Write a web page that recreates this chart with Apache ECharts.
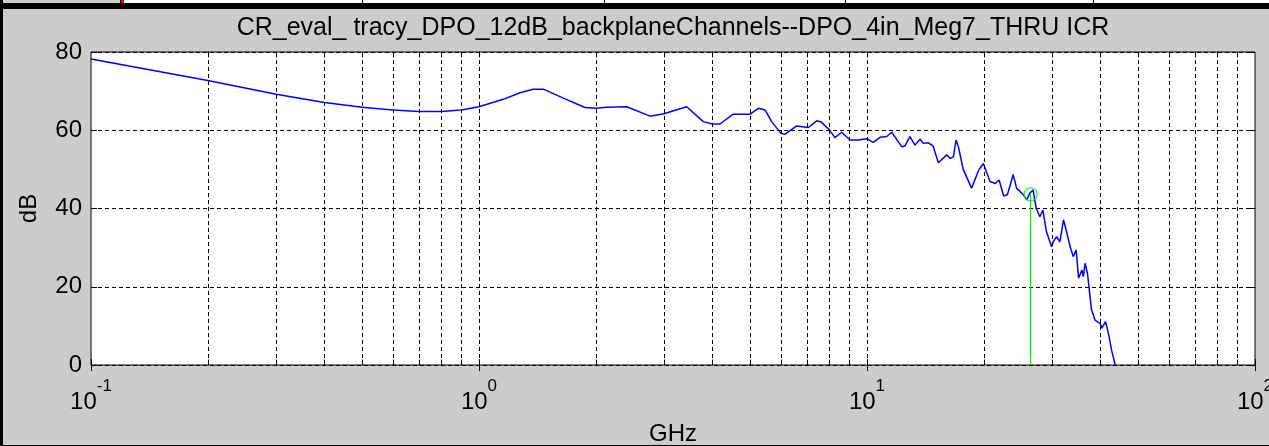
<!DOCTYPE html>
<html><head><meta charset="utf-8">
<script src="https://cdn.jsdelivr.net/npm/echarts@6/dist/echarts.min.js"></script>
<style>
html,body{margin:0;padding:0;width:1269px;height:446px;overflow:hidden;background:#cccccc;}
.f{position:absolute;}
#chart{position:absolute;left:0;top:0;width:1269px;height:446px;}
</style></head>
<body>
<div class="f" style="left:0;top:0;width:120px;height:3px;background:#cccccc"></div>
<div class="f" style="left:120px;top:0;width:1px;height:3px;background:#000"></div>
<div class="f" style="left:121px;top:0;width:3px;height:3px;background:#ff0000"></div>
<div class="f" style="left:124px;top:0;width:1145px;height:3px;background:#fff"></div>
<div class="f" style="left:362px;top:0;width:1px;height:3px;background:#000"></div>
<div class="f" style="left:604px;top:0;width:1px;height:3px;background:#000"></div>
<div class="f" style="left:845px;top:0;width:1px;height:3px;background:#000"></div>
<div class="f" style="left:1093px;top:0;width:1px;height:3px;background:#000"></div>
<div class="f" style="left:0;top:3px;width:1269px;height:6px;background:#000"></div>
<div class="f" style="left:0;top:0;width:3px;height:446px;background:#000"></div>
<div class="f" style="left:0;top:445px;width:1269px;height:1px;background:#000"></div>
<div id="chart"></div>
<script>
const titleText = 'CR_eval_ tracy_DPO_12dB_backplaneChannels--DPO_4in_Meg7_THRU ICR';
const xName = 'GHz';
const yName = 'dB';

const freqs = [
  0.1, 0.2, 0.3, 0.4, 0.5, 0.6, 0.7, 0.8, 0.9, 1.0,
  1.155, 1.275, 1.38, 1.465, 1.649, 1.876, 2.0, 2.133, 2.403, 2.76,
  3.0, 3.17, 3.43, 3.785, 4.0, 4.18, 4.52, 5.0, 5.25, 5.46,
  5.68, 6.0, 6.15, 6.59, 7.06, 7.42, 7.6, 8.0, 8.27, 8.6,
  9.04, 9.5, 10.0, 10.38, 10.8, 11.24, 11.58, 12.29, 12.53, 12.9,
  13.3, 13.7, 13.97, 14.4, 14.8, 15.27, 16.05, 16.4, 16.7, 16.96,
  17.2, 17.7, 18.6, 19.4, 19.95, 20.75, 21.4, 21.9, 22.5, 23.0,
  23.4, 23.8, 24.3, 25.3, 25.8, 26.3, 26.8, 27.3, 27.9, 28.4,
  29.0, 29.9, 30.2, 30.8, 31.4, 32.1, 32.6, 33.4, 34.0, 34.6,
  35.1, 35.8, 36.1, 36.5, 37.0, 37.9, 38.7, 39.9, 40.3, 41.2,
  41.9, 42.7, 43.6
];
const dbValues = [
  78.2, 72.7, 69.2, 67.1, 65.9, 65.2, 64.8, 64.8, 65.2, 66.0,
  67.9, 69.6, 70.5, 70.5, 68.2, 65.8, 65.6, 65.9, 66.0, 63.6,
  64.2, 65.0, 66.0, 62.2, 61.6, 61.6, 64.1, 64.1, 65.6, 65.2,
  62.2, 59.2, 59.0, 61.1, 60.7, 62.4, 62.2, 60.1, 58.1, 59.5,
  57.5, 57.5, 57.8, 56.9, 58.2, 58.4, 59.5, 55.8, 56.0, 58.4,
  56.2, 57.7, 56.7, 56.8, 56.0, 51.7, 53.7, 52.8, 53.2, 57.5,
  55.8, 50.0, 45.2, 49.8, 51.5, 46.9, 46.4, 47.3, 43.2, 43.5,
  46.0, 48.7, 45.2, 43.5, 42.2, 44.0, 44.7, 40.0, 37.9, 39.6,
  34.1, 30.2, 31.5, 32.8, 31.5, 37.1, 34.5, 30.2, 27.7, 29.4,
  22.2, 24.3, 22.6, 26.0, 23.4, 14.1, 11.5, 10.6, 9.4, 11.1,
  8.1, 3.8, 0.0
];
const markerFreq = 26.4;
const markerDb = 43.6;

const xMin = 0.1, xMax = 100;
const yMin = 0, yMax = 80, yStep = 20;
const gridFreqs = [0.2,0.3,0.4,0.5,0.6,0.7,0.8,0.9,1,2,3,4,5,6,7,8,9,10,20,30,40,50,60,70,80,90];
const tickDb = 1.4;

const FONT = 'Liberation Sans, Arial, sans-serif';
const chart = echarts.init(document.getElementById('chart'), null, {renderer:'canvas'});
const curve = freqs.map((f,i)=>[f, dbValues[i]]);

const tickMarks = [];
gridFreqs.forEach(f => {
  tickMarks.push([{coord: [f, yMin]}, {coord: [f, yMin + tickDb]}]);
  tickMarks.push([{coord: [f, yMax]}, {coord: [f, yMax - tickDb]}]);
});

chart.setOption({
  backgroundColor: 'transparent',
  animation: false,
  title: {
    text: titleText, left: 673, top: 16, textAlign: 'center', padding: 0,
    textStyle: {fontFamily: FONT, fontSize: 25, fontWeight: 'normal', color: '#000'}
  },
  grid: {left: 91, top: 52, width: 1164, height: 313, show: true,
         backgroundColor: '#ffffff', borderColor: '#000', borderWidth: 1,
         containLabel: false, outerBoundsMode: 'none'},
  xAxis: [{
    type: 'log', logBase: 10, min: xMin, max: xMax,
    name: xName, nameLocation: 'middle', nameGap: 57,
    nameTextStyle: {fontFamily: FONT, fontSize: 24, color: '#000'},
    axisLine: {show: false},
    axisTick: {show: true, inside: true, length: 6, lineStyle: {color: '#000'}},
    splitLine: {show: false},
    axisLabel: {
      margin: 23, color: '#000',
      formatter: function(v){
        const e = String(Math.round(Math.log10(v)));
        return '{b|10}{e|' + e + '}';
      },
      rich: {
        b: {fontFamily: FONT, fontSize: 24, lineHeight: 26, color: '#000', verticalAlign: 'bottom'},
        e: {fontFamily: FONT, fontSize: 17, lineHeight: 17, color: '#000', padding: [0,0,19,0], verticalAlign: 'bottom'}
      }
    }
  }, {
    type: 'log', logBase: 10, min: xMin, max: xMax, position: 'top',
    axisLine: {show: false}, axisLabel: {show: false}, splitLine: {show: false},
    axisTick: {show: true, inside: true, length: 6, lineStyle: {color: '#000'}}
  }],
  yAxis: [{
    type: 'value', min: yMin, max: yMax, interval: yStep,
    name: yName, nameLocation: 'middle', nameGap: 50, nameRotate: 90,
    nameTextStyle: {fontFamily: FONT, fontSize: 24, color: '#000'},
    axisLine: {show: false},
    axisTick: {show: true, inside: true, length: 6, lineStyle: {color: '#000'}},
    axisLabel: {margin: 9, fontFamily: FONT, fontSize: 24, color: '#000'},
    splitLine: {show: true, lineStyle: {color: '#000', type: [4,3], width: 1}}
  }, {
    type: 'value', min: yMin, max: yMax, interval: yStep, position: 'right',
    axisLine: {show: false}, axisLabel: {show: false}, splitLine: {show: false},
    axisTick: {show: true, inside: true, length: 6, lineStyle: {color: '#000'}}
  }],
  series: [
    {
      type: 'line', data: [], z: 1, silent: true,
      markLine: {
        silent: true, symbol: 'none', animation: false,
        label: {show: false},
        lineStyle: {color: '#000', type: [4,3], width: 1},
        data: gridFreqs.map(v => ({xAxis: v}))
      }
    },
    {
      type: 'line', data: [], z: 2, silent: true,
      markLine: {
        silent: true, symbol: 'none', animation: false,
        label: {show: false},
        lineStyle: {color: '#000', type: 'solid', width: 1},
        data: tickMarks
      }
    },
    {
      type: 'line', data: curve, z: 3, showSymbol: false, symbol: 'none',
      lineStyle: {color: '#0000ff', width: 1.5}, clip: true
    },
    {
      type: 'line', data: [[markerFreq, yMin], [markerFreq, markerDb]], z: 4,
      showSymbol: false, symbol: 'none', lineStyle: {color: '#00ee00', width: 1.2}
    },
    {
      type: 'scatter', data: [[markerFreq, markerDb]], z: 5,
      symbol: 'circle', symbolSize: 13,
      itemStyle: {color: 'rgba(0,0,0,0)', borderColor: '#00ee00', borderWidth: 1.3}
    }
  ]
});
</script>
</body></html>
